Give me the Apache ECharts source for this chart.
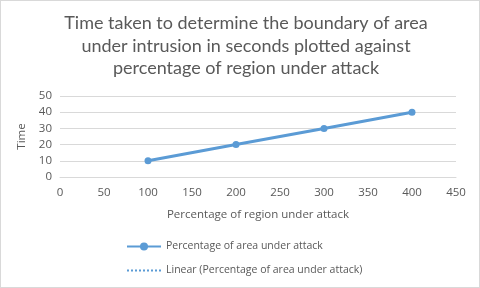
<!DOCTYPE html>
<html><head><meta charset="utf-8">
<script src="https://cdn.jsdelivr.net/npm/echarts@6/dist/echarts.min.js"></script>
<style>html,body{margin:0;padding:0;background:#fff}#c{width:480px;height:288px;box-sizing:border-box;border:1px solid #d9d9d9}</style>
</head><body><div id="c"></div>
<script>
const xValues = [100, 200, 300, 400];
const yValues = [10, 20, 30, 40];
const trendX = [100, 400];
const trendY = [10, 40];
const seriesName = 'Percentage of area under attack';
const trendName = 'Linear (Percentage of area under attack)';
const titleText = 'Time taken to determine the boundary of area\nunder intrusion in seconds plotted against\npercentage of region under attack';

const chart = echarts.init(document.getElementById('c'), null, {renderer: 'canvas'});
chart.setOption({
  animation: false,
  title: {
    text: titleText, left: 240, top: 6, textAlign: 'center',
    textStyle: {fontFamily: 'Lato', fontWeight: 'normal', fontSize: 18, color: '#595959', lineHeight: 22.5}
  },
  grid: {left: 59, right: 23, top: 95, bottom: 110, containLabel: false},
  xAxis: {
    type: 'value', min: 0, max: 450, interval: 50,
    name: 'Percentage of region under attack', nameLocation: 'middle', nameGap: 32,
    nameTextStyle: {fontFamily: 'Open Sans', fontSize: 11.5, color: '#595959'},
    axisLine: {show: true, lineStyle: {color: '#d9d9d9'}},
    axisTick: {show: false},
    splitLine: {show: false},
    axisLabel: {fontFamily: 'Open Sans', fontSize: 11.5, color: '#595959', margin: 10}
  },
  yAxis: {
    type: 'value', min: 0, max: 50, interval: 10,
    name: 'Time', nameLocation: 'middle', nameGap: 17, nameRotate: 90,
    nameTextStyle: {fontFamily: 'Open Sans', fontSize: 11.5, color: '#595959'},
    axisLine: {show: false}, axisTick: {show: false},
    splitLine: {show: true, lineStyle: {color: '#d9d9d9'}},
    axisLabel: {fontFamily: 'Open Sans', fontSize: 11.5, color: '#595959', margin: 8}
  },
  legend: {
    orient: 'vertical', left: 125, top: 240, padding: 0, itemGap: 13, itemWidth: 34, itemHeight: 10,
    textStyle: {fontFamily: 'Open Sans', fontSize: 10.5, color: '#595959'},
    data: [seriesName, {name: trendName, itemStyle: {opacity: 0}}]
  },
  series: [
    {
      name: trendName, type: 'line', z: 1, symbol: 'none',
      data: trendX.map((x, i) => [x, trendY[i]]),
      lineStyle: {color: '#5b9bd5', width: 1.2, type: 'dotted'},
      itemStyle: {color: '#5b9bd5'}
    },
    {
      name: seriesName, type: 'line', z: 2, symbol: 'circle', symbolSize: 7,
      data: xValues.map((x, i) => [x, yValues[i]]),
      lineStyle: {color: '#5b9bd5', width: 3},
      itemStyle: {color: '#5b9bd5'}
    }
  ]
});
</script></body></html>
